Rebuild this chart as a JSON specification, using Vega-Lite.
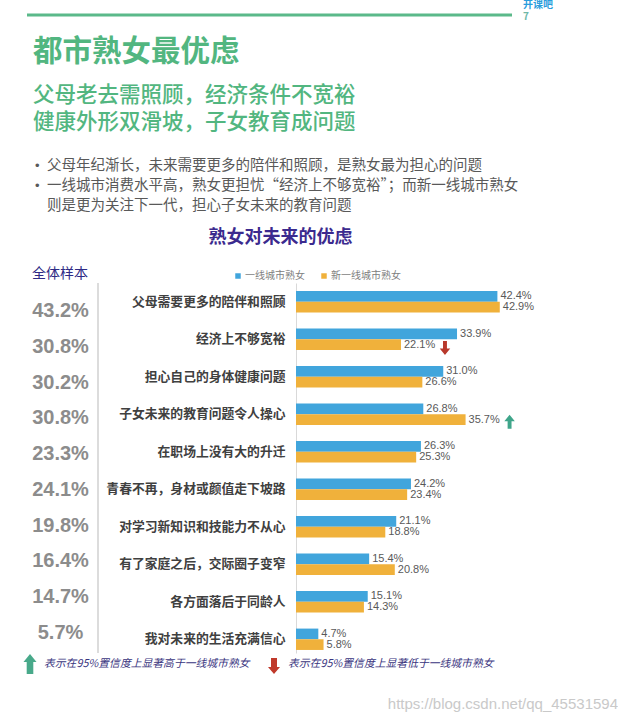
{
  "$schema": "https://vega.github.io/schema/vega-lite/v6.json",
  "background": "white",
  "padding": {"left": 23, "top": 0, "right": 0, "bottom": 0},
  "config": {
    "view": {"stroke": null},
    "font": "Noto Sans CJK SC",
    "text": {"font": "Noto Sans CJK SC"}
  },
  "datasets": {
    "bullets": [
      {"line": 1, "bullet": "•", "text": "父母年纪渐长，未来需要更多的陪伴和照顾，是熟女最为担心的问题"},
      {"line": 2, "bullet": "•", "text": "一线城市消费水平高，熟女更担忧“经济上不够宽裕”；而新一线城市熟女"},
      {"line": 3, "bullet": "", "text": "则是更为关注下一代，担心子女未来的教育问题"}
    ],
    "totals": [
      {"cat": "父母需要更多的陪伴和照顾", "total": 0.432},
      {"cat": "经济上不够宽裕", "total": 0.308},
      {"cat": "担心自己的身体健康问题", "total": 0.302},
      {"cat": "子女未来的教育问题令人操心", "total": 0.308},
      {"cat": "在职场上没有大的升迁", "total": 0.233},
      {"cat": "青春不再，身材或颜值走下坡路", "total": 0.241},
      {"cat": "对学习新知识和技能力不从心", "total": 0.198},
      {"cat": "有了家庭之后，交际圈子变窄", "total": 0.164},
      {"cat": "各方面落后于同龄人", "total": 0.147},
      {"cat": "我对未来的生活充满信心", "total": 0.057}
    ],
    "bars": [
      {"cat": "父母需要更多的陪伴和照顾", "group": "一线城市熟女", "value": 0.424},
      {"cat": "父母需要更多的陪伴和照顾", "group": "新一线城市熟女", "value": 0.429},
      {"cat": "经济上不够宽裕", "group": "一线城市熟女", "value": 0.339},
      {"cat": "经济上不够宽裕", "group": "新一线城市熟女", "value": 0.221, "sig": "down"},
      {"cat": "担心自己的身体健康问题", "group": "一线城市熟女", "value": 0.31},
      {"cat": "担心自己的身体健康问题", "group": "新一线城市熟女", "value": 0.266},
      {"cat": "子女未来的教育问题令人操心", "group": "一线城市熟女", "value": 0.268},
      {"cat": "子女未来的教育问题令人操心", "group": "新一线城市熟女", "value": 0.357, "sig": "up"},
      {"cat": "在职场上没有大的升迁", "group": "一线城市熟女", "value": 0.263},
      {"cat": "在职场上没有大的升迁", "group": "新一线城市熟女", "value": 0.253},
      {"cat": "青春不再，身材或颜值走下坡路", "group": "一线城市熟女", "value": 0.242},
      {"cat": "青春不再，身材或颜值走下坡路", "group": "新一线城市熟女", "value": 0.234},
      {"cat": "对学习新知识和技能力不从心", "group": "一线城市熟女", "value": 0.211},
      {"cat": "对学习新知识和技能力不从心", "group": "新一线城市熟女", "value": 0.188},
      {"cat": "有了家庭之后，交际圈子变窄", "group": "一线城市熟女", "value": 0.154},
      {"cat": "有了家庭之后，交际圈子变窄", "group": "新一线城市熟女", "value": 0.208},
      {"cat": "各方面落后于同龄人", "group": "一线城市熟女", "value": 0.151},
      {"cat": "各方面落后于同龄人", "group": "新一线城市熟女", "value": 0.143},
      {"cat": "我对未来的生活充满信心", "group": "一线城市熟女", "value": 0.047},
      {"cat": "我对未来的生活充满信心", "group": "新一线城市熟女", "value": 0.058}
    ],
    "notes": [
      {"sig": "up", "text": "表示在95%置信度上显著高于一线城市熟女"},
      {"sig": "down", "text": "表示在95%置信度上显著低于一线城市熟女"}
    ]
  },
  "spacing": 15,
  "resolve": {"legend": {"color": "independent"}, "scale": {"color": "independent"}},
  "vconcat": [
    {
      "width": 485,
      "height": 14,
      "data": {"values": [{"brand": "开课吧", "page": "7"}]},
      "layer": [
        {"mark": {"type": "rule", "color": "#5bb98a", "strokeWidth": 3}, "encoding": {"x": {"value": 0}, "x2": {"value": "width"}, "y": {"value": "height"}}},
        {"mark": {"type": "text", "align": "left", "baseline": "middle", "dx": 11, "dy": -3, "fontSize": 10, "fontWeight": "bold", "color": "#2a9ddc"}, "encoding": {"x": {"value": "width"}, "text": {"field": "brand"}}},
        {"mark": {"type": "text", "align": "left", "baseline": "middle", "dx": 11, "dy": 9, "fontSize": 10, "fontWeight": "bold", "color": "#6fb8a8"}, "encoding": {"x": {"value": "width"}, "text": {"field": "page"}}}
      ]
    },
    {
      "spacing": 13,
      "resolve": {"legend": {"color": "independent"}, "scale": {"color": "independent"}},
      "vconcat": [
        {
          "width": 485,
          "height": 60,
          "title": {
            "text": "都市熟女最优虑",
            "subtitle": ["父母老去需照顾，经济条件不宽裕", "健康外形双滑坡，子女教育成问题"],
            "anchor": "start", "dx": 6, "offset": 22,
            "font": "Noto Sans CJK SC", "fontSize": 29.5, "fontWeight": "bold", "color": "#52b680",
            "subtitleFont": "Noto Sans CJK SC", "subtitleFontSize": 21.5, "subtitleFontWeight": 500,
            "subtitleColor": "#52b680", "subtitleLineHeight": 27, "subtitlePadding": 17
          },
          "data": {"name": "bullets"},
          "encoding": {
            "x": {"value": 0},
            "y": {"field": "line", "type": "ordinal", "axis": null, "scale": {"paddingInner": 0, "paddingOuter": 0}}
          },
          "layer": [
            {"mark": {"type": "text", "align": "left", "baseline": "middle", "dx": 8, "fontSize": 13, "font": "Liberation Sans", "color": "#595959"}, "encoding": {"text": {"field": "bullet"}}},
            {"mark": {"type": "text", "align": "left", "baseline": "middle", "dx": 20, "fontSize": 14.5, "color": "#595959"}, "encoding": {"text": {"field": "text"}}}
          ]
        },
        {
          "spacing": 0,
          "resolve": {"legend": {"color": "independent"}, "scale": {"color": "independent"}},
          "vconcat": [
            {
              "title": {"text": "熟女对未来的优虑", "anchor": "middle", "fontSize": 18, "fontWeight": "bold", "color": "#3b2a8e", "offset": 20, "font": "Noto Sans CJK SC"},
              "spacing": 6,
              "resolve": {"legend": {"color": "independent"}, "scale": {"color": "independent"}},
              "hconcat": [
                {
                  "width": 71,
                  "height": 370,
                  "title": {"text": "全体样本", "anchor": "start", "dx": 5, "fontSize": 14, "fontWeight": "normal", "color": "#2e2a85", "offset": 1, "font": "Noto Sans CJK SC"},
                  "layer": [
                    {"data": {"values": [{}]}, "mark": {"type": "rule", "color": "#d0d0d0", "strokeWidth": 1.5}, "encoding": {"x": {"value": "width"}}},
                    {
                      "data": {"name": "totals"},
                      "mark": {"type": "text", "font": "Liberation Sans", "fontSize": 20, "fontWeight": "bold", "color": "#8c8c8c", "baseline": "middle", "dx": -2},
                      "encoding": {
                        "y": {"field": "cat", "type": "nominal", "sort": null, "axis": null, "scale": {"type": "point", "padding": 0.67, "align": 0.583}},
                        "text": {"field": "total", "type": "quantitative", "format": ".1%"}
                      }
                    }
                  ]
                },
                {
                  "width": 237.5,
                  "height": 370,
                  "data": {"name": "bars"},
                  "encoding": {
                    "y": {"field": "cat", "type": "nominal", "sort": null, "scale": {"paddingInner": 0.43, "paddingOuter": 0.148, "align": 0.726},
                      "axis": {"title": null, "ticks": false, "labelPadding": 11, "labelFontSize": 12.8, "labelFontWeight": "bold", "labelColor": "#404040", "labelFont": "Noto Sans CJK SC", "domainColor": "#d9d9d9", "labelLimit": 300}},
                    "yOffset": {"field": "group", "type": "nominal", "sort": ["一线城市熟女", "新一线城市熟女"], "scale": {"paddingInner": 0, "paddingOuter": 0}},
                    "x": {"field": "value", "type": "quantitative", "scale": {"domain": [0, 0.5]}, "axis": null}
                  },
                  "layer": [
                    {
                      "mark": {"type": "bar"},
                      "encoding": {
                        "color": {"field": "group", "type": "nominal", "scale": {"domain": ["一线城市熟女", "新一线城市熟女"], "range": ["#41a5dc", "#f0b13b"]},
                          "legend": {"title": null, "orient": "none", "legendX": -63, "legendY": -12, "direction": "horizontal", "symbolType": "square", "symbolSize": 30, "symbolStrokeWidth": 0, "labelFontSize": 10, "labelColor": "#808080", "labelFont": "Noto Sans CJK SC", "columnPadding": 14, "labelOffset": 2, "padding": 0}}
                      }
                    },
                    {
                      "mark": {"type": "text", "align": "left", "baseline": "middle", "dx": 3, "fontSize": 11, "font": "Liberation Sans", "color": "#595959"},
                      "encoding": {"text": {"field": "value", "type": "quantitative", "format": ".1%"}}
                    },
                    {
                      "transform": [{"filter": "datum.sig == 'down'"}],
                      "mark": {"type": "point", "filled": true, "opacity": 1, "color": "#b8382c", "size": 196, "strokeWidth": 0, "xOffset": 44,
                        "shape": "M-0.28,-0.5L0.28,-0.5L0.28,0.55L0.75,0.55L0,1.5L-0.75,0.55L-0.28,0.55Z"}
                    },
                    {
                      "transform": [{"filter": "datum.sig == 'up'"}],
                      "mark": {"type": "point", "filled": true, "opacity": 1, "color": "#3fa58a", "size": 196, "strokeWidth": 0, "xOffset": 44,
                        "shape": "M-0.28,1.3L0.28,1.3L0.28,0.25L0.75,0.25L0,-0.7L-0.75,0.25L-0.28,0.25Z"}
                    }
                  ]
                }
              ]
            },
            {
              "width": 488,
              "height": 20,
              "title": {"text": "https://blog.csdn.net/qq_45531594", "orient": "bottom", "anchor": "end", "dx": 103, "offset": 23, "font": "Liberation Sans", "fontSize": 15, "fontWeight": "normal", "color": "#c9c9c9"},
              "data": {"name": "notes"},
              "encoding": {
                "x": {"field": "sig", "type": "nominal", "sort": ["up", "down"], "bandPosition": 0, "scale": {"type": "band", "paddingInner": 0, "paddingOuter": 0}, "axis": null}
              },
              "layer": [
                {
                  "transform": [{"filter": "datum.sig == 'up'"}],
                  "mark": {"type": "point", "filled": true, "opacity": 1, "color": "#48a98a", "size": 400, "strokeWidth": 0, "xOffset": 3,
                    "shape": "M-0.33,1L0.33,1L0.33,-0.2L0.65,-0.2L0,-1L-0.65,-0.2L-0.33,-0.2Z"}
                },
                {
                  "transform": [{"filter": "datum.sig == 'down'"}],
                  "mark": {"type": "point", "filled": true, "opacity": 1, "color": "#c0392b", "size": 400, "strokeWidth": 0, "xOffset": 3,
                    "shape": "M-0.3,-0.6L0.3,-0.6L0.3,0.3L0.6,0.3L0,1L-0.6,0.3L-0.3,0.3Z"}
                },
                {
                  "mark": {"type": "text", "align": "left", "baseline": "middle", "dx": 17, "fontSize": 10.8, "fontStyle": "italic", "color": "#3a3580"},
                  "encoding": {"text": {"field": "text"}}
                }
              ]
            }
          ]
        }
      ]
    }
  ]
}
